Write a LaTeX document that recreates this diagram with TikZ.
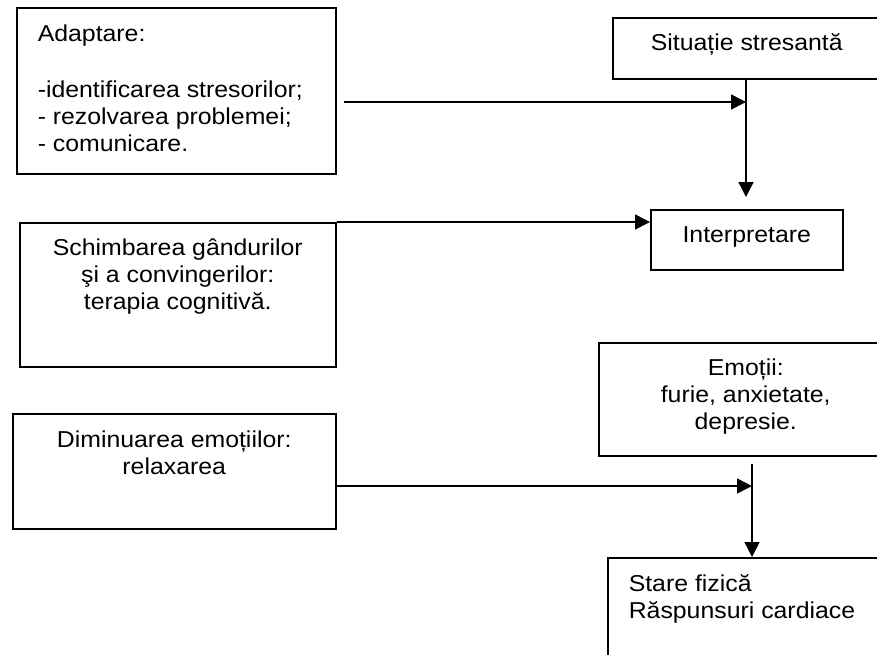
\documentclass[tikz,border=0pt]{standalone}
\usepackage{fontspec}
\setmainfont[FakeStretch=1.08]{Liberation Sans}
\usetikzlibrary{arrows.meta}
\tikzset{
  box/.style={draw, line width=1.5pt, rectangle, inner sep=0pt, anchor=north west},
  arr/.style={line width=1.5pt, -{Triangle[length=15pt,width=15pt]}}
}
\newcommand{\ctrbox}[4]{\begin{minipage}[c][#2][t]{#1}\vspace*{#3}\centering\strut #4\end{minipage}}
\newcommand{\lftbox}[4]{\begin{minipage}[c][#2][t]{#1}\vspace*{#3}\raggedright\leftskip=21pt\strut #4\end{minipage}}
\begin{document}
\begin{tikzpicture}[x=1pt, y=-1pt, font=\fontsize{23}{27}\selectfont]
\useasboundingbox (0,0) rectangle (877,654);
\clip (0,0) rectangle (877,654);

\node[box, minimum width=319pt, minimum height=166pt] (A) at (16,7)
  {\lftbox{319pt}{166pt}{15pt}{Adaptare:\\[29pt] -identificarea stresorilor;\\ - rezolvarea problemei;\\ - comunicare.}};
\node[box, minimum width=268pt, minimum height=61pt] (S) at (612,17)
  {\ctrbox{268pt}{61pt}{14pt}{Situație stresantă}};
\node[box, minimum width=192pt, minimum height=60pt] (I) at (650,209)
  {\ctrbox{192pt}{60pt}{14pt}{Interpretare}};
\node[box, minimum width=316pt, minimum height=144pt] (C) at (19,222)
  {\ctrbox{316pt}{144pt}{14pt}{Schimbarea gândurilor\\ şi a convingerilor:\\ terapia cognitivă.}};
\node[box, minimum width=323pt, minimum height=115pt] (D) at (12,413)
  {\ctrbox{323pt}{115pt}{15pt}{Diminuarea emoțiilor:\\ relaxarea}};
\node[box, minimum width=294pt, minimum height=113pt] (E) at (598,342)
  {\ctrbox{294pt}{113pt}{14pt}{Emoții:\\ furie, anxietate,\\ depresie.}};
\node[box, minimum width=290pt, minimum height=130pt] (F) at (607,557)
  {\lftbox{290pt}{130pt}{15pt}{Stare fizică\\ Răspunsuri cardiace}};

\coordinate (j1) at (746,102);
\coordinate (j2) at (752,486);

\draw[arr] ([xshift=7pt]A.east |- j1) -- (j1);
\draw[arr, shorten >=12pt] (j1 |- S.south) -- (j1 |- I.north);
\draw[arr] (C.north east) -- (C.north east -| I.west);
\draw[arr] (D.east |- j2) -- (j2);
\draw[arr] ([yshift=-7pt]j2 |- E.south) -- (j2 |- F.north);
\end{tikzpicture}
\end{document}
